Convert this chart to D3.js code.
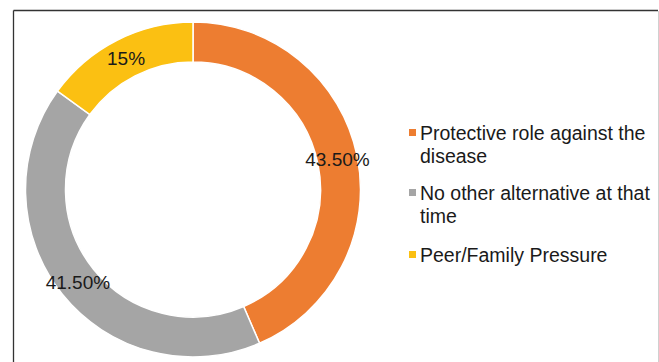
<!DOCTYPE html>
<html>
<head>
<meta charset="utf-8">
<script src="https://cdn.jsdelivr.net/npm/d3@7"></script>
<style>
  html, body { margin: 0; padding: 0; background: #fff; }
  svg { display: block; }
  text { font-family: "Liberation Sans", Arial, sans-serif; }
</style>
</head>
<body>
<svg id="chart" width="659" height="362"></svg>
<script>
const categories = ["Protective role against the disease", "No other alternative at that time", "Peer/Family Pressure"];
const legendLines = [["Protective role against the", "disease"], ["No other alternative at that", "time"], ["Peer/Family Pressure"]];
const values = [43.5, 41.5, 15];
const labels = ["43.50%", "41.50%", "15%"];
const colors = ["#ED7D31", "#A5A5A5", "#FBC012"];

const svg = d3.select("#chart");

// frame
svg.append("line").attr("x1", 13.5).attr("y1", 10.5).attr("x2", 658).attr("y2", 10.5)
  .attr("stroke", "#333").attr("stroke-width", 1.3);
svg.append("line").attr("x1", 13.5).attr("y1", 10.5).attr("x2", 13.5).attr("y2", 362)
  .attr("stroke", "#333").attr("stroke-width", 1.3);
svg.append("line").attr("x1", 658.5).attr("y1", 11).attr("x2", 658.5).attr("y2", 362)
  .attr("stroke", "#d0d0d0").attr("stroke-width", 1);

const cx = 193, cy = 189.5, rOuter = 167.5, rInner = 127.5;
const pie = d3.pie().sort(null).value(d => d)(values);
const arc = d3.arc().innerRadius(rInner).outerRadius(rOuter);
const labelArc = d3.arc().innerRadius((rInner + rOuter) / 2).outerRadius((rInner + rOuter) / 2);

const g = svg.append("g").attr("transform", `translate(${cx},${cy})`);
g.selectAll("path").data(pie).join("path")
  .attr("d", arc)
  .attr("fill", (d, i) => colors[i])
  .attr("stroke", "#fff").attr("stroke-width", 1.5);

g.selectAll("text.lbl").data(pie).join("text")
  .attr("class", "lbl")
  .attr("transform", d => `translate(${labelArc.centroid(d)})`)
  .attr("text-anchor", "middle")
  .attr("dy", "0.36em")
  .attr("font-size", 19)
  .attr("fill", "#1a1a1a")
  .text((d, i) => labels[i]);

// legend
const legendY = [140, 200, 262];
const lg = svg.append("g");
categories.forEach((c, i) => {
  lg.append("rect").attr("x", 409).attr("y", legendY[i] - 11).attr("width", 7).attr("height", 7)
    .attr("fill", colors[i]);
  const t = lg.append("text").attr("x", 420).attr("y", legendY[i])
    .attr("font-size", 19.5).attr("fill", "#1a1a1a");
  legendLines[i].forEach((ln, j) => {
    t.append("tspan").attr("x", 420).attr("dy", j === 0 ? 0 : 22.5).text(ln);
  });
});
</script>
</body>
</html>
